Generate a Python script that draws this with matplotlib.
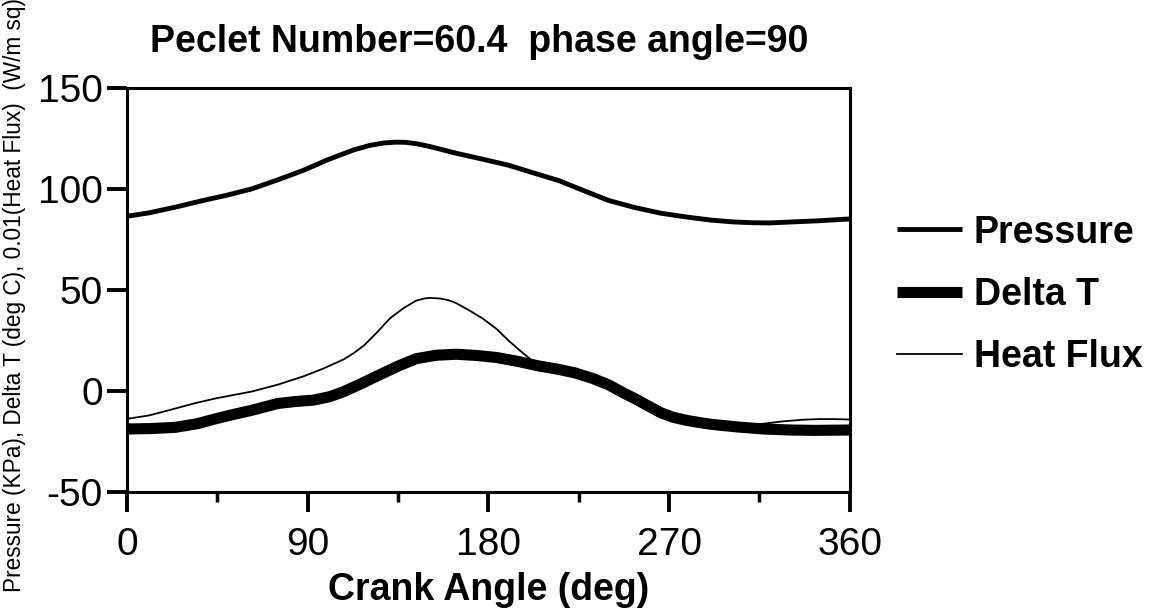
import matplotlib
matplotlib.use("Agg")
import matplotlib.pyplot as plt
from matplotlib.ticker import MultipleLocator

plt.rcParams['font.family'] = ['Liberation Sans', 'DejaVu Sans']
plt.rcParams['axes.unicode_minus'] = False

# data
pressure_x = [0, 11, 24, 37, 50, 62, 75, 88, 100, 113, 121, 128, 134, 139, 145, 151, 164, 177, 190, 202, 215,
              228, 240, 253, 266, 279, 291, 302, 312, 320, 329, 345, 360]
pressure_y = [86.5, 88.2, 91.0, 94.1, 97.0, 100, 104.5, 109.3, 114.5, 119.4, 121.6, 122.8, 123.2, 123.1, 122.3,
              121, 117.7, 114.8, 111.8, 108.1, 104.2, 99.0, 94.3, 90.8, 88.0, 86.1, 84.6, 83.7, 83.3, 83.2,
              83.6, 84.3, 85.2]

delta_x = [0, 12, 24, 35, 44, 53, 62, 75, 84, 93, 101, 108, 117, 126, 135, 144, 154, 164, 174, 184, 195, 205,
           214, 223, 232, 240, 247, 253, 260, 266, 272, 279, 285, 291, 304, 317, 330, 342, 352, 360]
delta_y = [-18.8, -18.6, -18, -16.2, -13.8, -11.6, -9.6, -6.2, -5.2, -4.5, -2.8, -0.3, 3.8, 8.1, 12.3, 16, 17.7,
           18.2, 17.6, 16.6, 14.6, 12.4, 10.9, 9, 6.2, 3.0, -0.8, -3.8, -7.6, -10.8, -13.0, -14.6, -15.6,
           -16.5, -17.8, -18.8, -19.3, -19.5, -19.4, -19.3]

flux_x = [0, 11, 24, 34, 44, 53, 62, 75, 88, 98, 108, 113, 118, 125, 131, 138, 144, 148, 151, 156, 160, 164,
          170, 177, 184, 190, 196, 202, 207, 215, 223, 232, 240, 247, 253, 260, 266, 272, 279, 285, 291, 298,
          305, 317, 327, 337, 345, 352, 360]
flux_y = [-13.8, -12.1, -8.7, -6.0, -3.7, -2.0, -0.3, 3.1, 7.3, 11.2, 15.7, 18.8, 22.5, 29.5, 36, 41.2, 44.7,
          45.8, 46.1, 45.8, 45.0, 43.5, 40.2, 36, 30.8, 25, 19.8, 14.9, 13.2, 11.4, 9.5, 6.5, 3.3, -0.3,
          -3.3, -7.1, -10.3, -12.5, -14.1, -15.1, -16.0, -16.8, -16.9, -16.2, -15.0, -14.2, -13.9, -13.9, -14.1]

x_ticks = [0, 90, 180, 270, 360]
y_ticks = [-50, 0, 50, 100, 150]

fig = plt.figure(figsize=(11.51, 6.13), dpi=100)
ax = fig.add_axes([0.1103, 0.1974, 0.628, 0.659])

ax.plot(pressure_x, pressure_y, color='black', lw=3.5, solid_capstyle='butt', label='Pressure')
ax.plot(delta_x, delta_y, color='black', lw=8, solid_capstyle='butt', label='Delta T')
ax.plot(flux_x, flux_y, color='black', lw=1.3, label='Heat Flux')

ax.set_xlim(0, 360)
ax.set_ylim(-50, 150)
ax.set_xticks(x_ticks)
ax.set_yticks(y_ticks)
ax.xaxis.set_minor_locator(MultipleLocator(45))
for s in ax.spines.values():
    s.set_linewidth(2.2)
ax.tick_params(axis='both', which='major', direction='out', length=14.4, width=2.8, labelsize=28)
ax.tick_params(axis='x', which='major', pad=11)
ax.tick_params(axis='y', which='major', pad=3)
ax.tick_params(axis='x', which='minor', direction='out', length=7, width=2.5)

ax.set_title('Peclet Number=60.4  phase angle=90', fontsize=27, fontweight='bold', pad=26, x=0.487)
ax.set_xlabel('Crank Angle (deg)', fontsize=27, fontweight='bold', labelpad=6)
fig.text(0.013, 0.034, 'Pressure (KPa), Delta T (deg C), 0.01(Heat Flux)  (W/m sq)',
         rotation=90, ha='center', va='bottom', fontsize=16.3)

leg = fig.legend(loc='center left', bbox_to_anchor=(0.779, 0.519), frameon=False,
                 prop={'size': 27, 'weight': 'bold'}, handlelength=1.73, handletextpad=0.32,
                 labelspacing=0.7, borderpad=0, borderaxespad=0)

fig.savefig('out.png', dpi=100)
